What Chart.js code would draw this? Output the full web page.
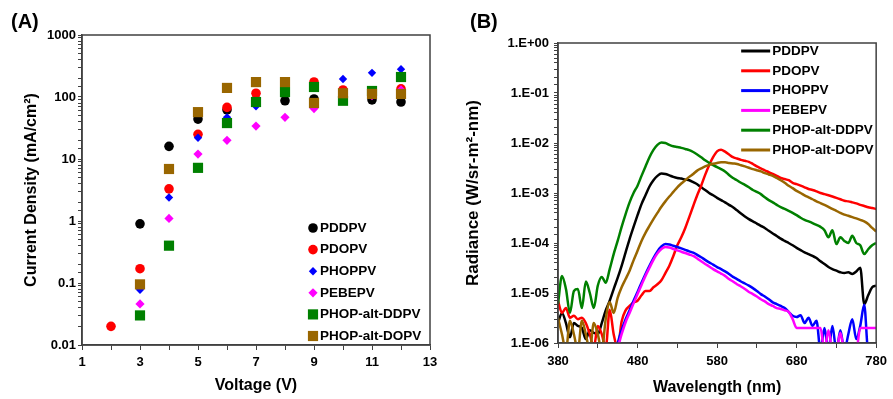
<!DOCTYPE html>
<html>
<head>
<meta charset="utf-8">
<title>J-V and EL spectra</title>
<script src="https://cdn.jsdelivr.net/npm/chart.js@4.4.1/dist/chart.umd.min.js"></script>
<style>
  body { margin: 0; background: #fff; font-family: "Liberation Sans", Arial, sans-serif; }
  .wrap { position: relative; width: 893px; height: 399px; overflow: hidden; }
  .panel { position: absolute; top: 0; height: 399px; }
  .tag { position: absolute; top: 10px; font-size: 20px; font-weight: bold; line-height: 23px; }
</style>
</head>
<body>
<div class="wrap">
  <div class="panel" style="left:0;width:445px"><canvas id="jvChart"></canvas></div>
  <div class="panel" style="left:445px;width:448px"><canvas id="elChart"></canvas></div>
  <div class="tag" style="left:11px">(A)</div>
  <div class="tag" style="left:470px">(B)</div>
</div>
<script>
// panel A - current density vs voltage
const voltage = [2, 3, 4, 5, 6, 7, 8, 9, 10, 11, 12];
const jPDDPV  = [null, 0.9, 16, 44, 62, 90, 87, 93, 100, 90, 83];
const jPDOPV  = [0.02, 0.17, 3.3, 25, 68, 115, 125, 175, 130, 120, 135];
const jPHOPPV = [null, 0.078, 2.4, 22, 47, 71, 120, 150, 195, 245, 280];
const jPEBEPV = [null, 0.046, 1.1, 12, 20, 34, 47, 65, 95, 105, 130];
const jDDPV   = [null, 0.03, 0.4, 7.2, 38, 83, 120, 145, 87, 125, 210];
const jDOPV   = [null, 0.095, 6.9, 57, 140, 174, 174, 80, 115, 112, 112];
const voltageTicks = ['1', '3', '5', '7', '9', '11', '13'];
const currentTicks = ['0.01', '0.1', '1', '10', '100', '1000'];

// panel B - radiance spectra, 5 nm steps
const wavelength = [
  380, 385, 390, 395, 400, 405, 410, 415, 420, 425,
  430, 435, 440, 445, 450, 455, 460, 465, 470, 475,
  480, 485, 490, 495, 500, 505, 510, 515, 520, 525,
  530, 535, 540, 545, 550, 555, 560, 565, 570, 575,
  580, 585, 590, 595, 600, 605, 610, 615, 620, 625,
  630, 635, 640, 645, 650, 655, 660, 665, 670, 675,
  680, 685, 690, 695, 700, 705, 710, 715, 720, 725,
  730, 735, 740, 745, 750, 755, 760, 765, 770, 775,
  780
];
const rPDDPV = [
  2.5e-6, 4e-6, 2.5e-6, 1.3e-6, 2.5e-6, 2.2e-6, 2e-6, 1.2e-6, 1.8e-6, 1.6e-6,
  1.5e-6, 2.5e-6, 4.5e-6, 7e-6, 1.2e-5, 2e-5, 3.5e-5, 6.5e-5, 1.2e-4, 2.1e-4,
  3.6e-4, 6e-4, 9e-4, 1.35e-3, 1.8e-3, 2.2e-3, 2.45e-3, 2.4e-3, 2.25e-3, 2.1e-3,
  2.0e-3, 1.95e-3, 1.85e-3, 1.8e-3, 1.65e-3, 1.5e-3, 1.3e-3, 1.15e-3, 1.0e-3, 9e-4,
  8e-4, 7.2e-4, 6.5e-4, 5.8e-4, 5.2e-4, 4.5e-4, 3.9e-4, 3.4e-4, 3.0e-4, 2.7e-4,
  2.45e-4, 2.2e-4, 2.0e-4, 1.75e-4, 1.55e-4, 1.38e-4, 1.22e-4, 1.1e-4, 1e-4, 9e-5,
  8e-5, 7.2e-5, 6.5e-5, 6e-5, 5.5e-5, 5e-5, 4.3e-5, 3.8e-5, 3.3e-5, 3e-5,
  2.8e-5, 2.6e-5, 2.5e-5, 2.6e-5, 2.4e-5, 2.7e-5, 3.2e-5, 6e-6, 9e-6, 1.3e-5,
  1.4e-5
];
const rPDOPV = [
  7e-6, 4e-6, 5e-6, 3.2e-6, 3.5e-6, 3e-6, 3.2e-6, 2.5e-6, 1.5e-6, 8e-7,
  2.2e-6, 1.5e-6, 8e-7, 4.6e-6, 1.5e-6, 8e-7, 2.7e-6, 4.5e-6, 5.5e-6, 6.5e-6,
  7e-6, 9e-6, 1.1e-5, 1.1e-5, 1.3e-5, 1.5e-5, 1.8e-5, 2.5e-5, 3.5e-5, 5.5e-5,
  9e-5, 1.3e-4, 2.0e-4, 3.3e-4, 5.5e-4, 9e-4, 1.4e-3, 2.3e-3, 3.6e-3, 5.2e-3,
  6.8e-3, 7.3e-3, 6.7e-3, 5.9e-3, 5.2e-3, 4.9e-3, 4.6e-3, 4.4e-3, 4.2e-3, 3.8e-3,
  3.4e-3, 3.1e-3, 2.85e-3, 2.6e-3, 2.4e-3, 2.2e-3, 2e-3, 1.9e-3, 1.8e-3, 1.6e-3,
  1.5e-3, 1.4e-3, 1.3e-3, 1.2e-3, 1.15e-3, 1.08e-3, 1e-3, 9.5e-4, 9e-4, 8.5e-4,
  8e-4, 7.5e-4, 7e-4, 6.8e-4, 6.5e-4, 6.2e-4, 5.8e-4, 5.5e-4, 5.2e-4, 5e-4,
  4.8e-4
];
const rPHOPPV = [
  5e-7, 5e-7, 5e-7, 5e-7, 5e-7, 5e-7, 5e-7, 5e-7, 5e-7, 5e-7,
  5e-7, 5e-7, 5e-7, 5e-7, 5e-7, 1e-6, 1.8e-6, 3e-6, 4.5e-6, 7e-6,
  1.05e-5, 1.6e-5, 2.4e-5, 3.5e-5, 5e-5, 6.8e-5, 8.5e-5, 9.5e-5, 9.3e-5, 8.8e-5,
  8.3e-5, 7.8e-5, 7.3e-5, 6.8e-5, 6.4e-5, 5.8e-5, 5.2e-5, 4.6e-5, 4.1e-5, 3.7e-5,
  3.3e-5, 3e-5, 2.7e-5, 2.4e-5, 2.1e-5, 1.9e-5, 1.7e-5, 1.55e-5, 1.4e-5, 1.25e-5,
  1.1e-5, 9.5e-6, 8.5e-6, 7.5e-6, 6.5e-6, 6e-6, 5.5e-6, 5e-6, 4.2e-6, 3.5e-6,
  3.3e-6, 3.6e-6, 2.5e-6, 3.2e-6, 2.2e-6, 2.8e-6, 7e-7, 2e-6, 7e-7, 2.2e-6,
  7e-7, 1.8e-6, 7e-7, 1.5e-6, 3e-6, 1.2e-6, 2.2e-6, 5.8e-6, 7e-7, 7e-7,
  7e-7
];
const rPEBEPV = [
  5e-7, 5e-7, 5e-7, 5e-7, 5e-7, 5e-7, 5e-7, 5e-7, 5e-7, 5e-7,
  5e-7, 5e-7, 5e-7, 5e-7, 5e-7, 8e-7, 1.5e-6, 2.6e-6, 4e-6, 6.2e-6,
  9.5e-6, 1.45e-5, 2.2e-5, 3.2e-5, 4.6e-5, 6.2e-5, 7.6e-5, 8.3e-5, 8.1e-5, 7.6e-5,
  7.1e-5, 6.7e-5, 6.3e-5, 5.9e-5, 5.5e-5, 4.9e-5, 4.3e-5, 3.8e-5, 3.4e-5, 3e-5,
  2.7e-5, 2.45e-5, 2.2e-5, 1.9e-5, 1.7e-5, 1.5e-5, 1.35e-5, 1.2e-5, 1.05e-5, 9.5e-6,
  8.5e-6, 7.5e-6, 6.8e-6, 6e-6, 5.5e-6, 5e-6, 4.8e-6, 4.5e-6, 4.2e-6, 3e-6,
  2e-6, 2e-6, 2e-6, 2e-6, 2e-6, 2e-6, 2e-6, 7e-7, 1.8e-6, 7e-7,
  7e-7, 1.6e-6, 7e-7, 7e-7, 7e-7, 7e-7, 2e-6, 2e-6, 2e-6, 2e-6,
  2e-6
];
const rDDPV = [
  6e-6, 2.2e-5, 1.2e-5, 4e-6, 1.1e-5, 1.2e-5, 5e-6, 1.7e-5, 1e-5, 5e-6,
  1.4e-5, 2.1e-5, 1.6e-5, 3e-5, 6e-5, 1.1e-4, 2.1e-4, 3.8e-4, 6.5e-4, 1.0e-3,
  1.4e-3, 2.2e-3, 3.4e-3, 5.2e-3, 7.3e-3, 9.2e-3, 1.02e-2, 1.0e-2, 9.2e-3, 8.6e-3,
  8.3e-3, 8e-3, 7.6e-3, 7.2e-3, 6.6e-3, 5.9e-3, 5.2e-3, 4.5e-3, 4e-3, 3.6e-3,
  3.3e-3, 3.0e-3, 2.7e-3, 2.3e-3, 2.0e-3, 1.8e-3, 1.6e-3, 1.45e-3, 1.3e-3, 1.15e-3,
  1.05e-3, 9.5e-4, 8.2e-4, 7.2e-4, 6.5e-4, 5.8e-4, 5.2e-4, 4.8e-4, 4.4e-4, 4e-4,
  3.6e-4, 3.2e-4, 2.9e-4, 2.7e-4, 2.5e-4, 2.3e-4, 2.1e-4, 1.8e-4, 1.3e-4, 1.8e-4,
  9.5e-5, 1.3e-4, 1.1e-4, 1e-4, 1.4e-4, 1e-4, 9e-5, 6e-5, 7.5e-5, 9e-5,
  1e-4
];
const rDOPV = [
  3.2e-6, 1.5e-6, 7e-7, 2.8e-6, 1.5e-6, 7e-7, 2.8e-6, 1.5e-6, 7e-7, 2.5e-6,
  1.5e-6, 7e-7, 3e-6, 6.5e-6, 4e-6, 8e-6, 1.3e-5, 1.9e-5, 2.8e-5, 4.5e-5,
  7e-5, 1.1e-4, 1.6e-4, 2.2e-4, 3e-4, 4e-4, 5.3e-4, 6.8e-4, 8.5e-4, 1.05e-3,
  1.3e-3, 1.55e-3, 1.8e-3, 2.1e-3, 2.4e-3, 2.8e-3, 3.1e-3, 3.4e-3, 3.65e-3, 3.85e-3,
  4e-3, 4.1e-3, 4.1e-3, 4e-3, 3.9e-3, 3.8e-3, 3.6e-3, 3.4e-3, 3.2e-3, 3e-3,
  2.85e-3, 2.7e-3, 2.5e-3, 2.35e-3, 2.2e-3, 2e-3, 1.8e-3, 1.6e-3, 1.4e-3, 1.25e-3,
  1.1e-3, 1e-3, 9e-4, 8.2e-4, 7.5e-4, 6.8e-4, 6.3e-4, 5.8e-4, 5.3e-4, 4.8e-4,
  4.4e-4, 4e-4, 3.7e-4, 3.5e-4, 3.3e-4, 3.1e-4, 2.9e-4, 2.7e-4, 2.4e-4, 2e-4,
  1.7e-4
];
const wavelengthTicks = ['380', '480', '580', '680', '780'];
const radianceTicks = ['1.E-06', '1.E-05', '1.E-04', '1.E-03', '1.E-02', '1.E-01', '1.E+00'];

const names = ['PDDPV', 'PDOPV', 'PHOPPV', 'PEBEPV', 'PHOP-alt-DDPV', 'PHOP-alt-DOPV'];
const colors = ['#000000', '#ff0000', '#0000ff', '#ff00ff', '#008000', '#996600'];
const markers = ['circle', 'circle', 'rectRot', 'rectRot', 'rect', 'rect'];
const markerSize = [4.8, 4.8, 4.2, 4.6, 7.2, 7.2];

const FONT = '"Liberation Sans", Arial, sans-serif';
const AXIS = '#404040';

function pairs(xs, ys) {
  const out = [];
  xs.forEach((x, i) => { if (ys[i] != null) out.push({ x: x, y: ys[i] }); });
  return out;
}

// index of a decade tick, or -1 for minor ticks
function decade(v, lo) {
  const e = Math.log10(v);
  if (Math.abs(e - Math.round(e)) > 1e-6) return -1;
  return Math.round(e) - lo;
}

// plot box on all four sides
const frame = {
  id: 'frame',
  afterDraw(chart) {
    const { ctx, chartArea: a } = chart;
    ctx.save();
    ctx.strokeStyle = AXIS;
    ctx.lineWidth = 1.5;
    ctx.strokeRect(a.left, a.top, a.right - a.left, a.bottom - a.top);
    ctx.restore();
  }
};

// legend drawn inside the plot area
const boxLegend = {
  id: 'boxLegend',
  afterDraw(chart, args, opts) {
    const ctx = chart.ctx;
    const a = chart.chartArea;
    ctx.save();
    ctx.font = 'bold 13.5px ' + FONT;
    ctx.textBaseline = 'middle';
    chart.data.datasets.forEach((ds, i) => {
      const y = a.top + opts.top + i * opts.step;
      const x = a.right - opts.fromRight;
      if (opts.lines) {
        ctx.strokeStyle = ds.borderColor;
        ctx.lineWidth = 3;
        ctx.beginPath();
        ctx.moveTo(x, y);
        ctx.lineTo(x + opts.swatch, y);
        ctx.stroke();
      } else {
        ctx.fillStyle = ds.backgroundColor;
        Chart.helpers.drawPoint(ctx, { pointStyle: ds.pointStyle, radius: ds.pointRadius, rotation: 0, borderWidth: 0 }, x + opts.swatch / 2, y);
      }
      ctx.fillStyle = '#000';
      ctx.fillText(ds.label, x + opts.swatch + opts.gap, y);
    });
    ctx.restore();
  }
};

const tickFont = { family: FONT, size: 13, weight: 'bold' };
const titleFont = { family: FONT, size: 16, weight: 'bold' };

// --- chart A ---
const jvSets = [jPDDPV, jPDOPV, jPHOPPV, jPEBEPV, jDDPV, jDOPV].map((ys, i) => ({
  label: names[i],
  data: pairs(voltage, ys),
  pointStyle: markers[i],
  pointRadius: markerSize[i],
  pointHoverRadius: markerSize[i],
  pointBorderWidth: 0,
  backgroundColor: colors[i],
  borderColor: colors[i],
  order: names.length - 1 - i
}));

new Chart(document.getElementById('jvChart'), {
  type: 'scatter',
  data: { datasets: jvSets },
  options: {
    responsive: true,
    maintainAspectRatio: false,
    animation: false,
    layout: { padding: { top: 35, right: 15, left: 0, bottom: 0 } },
    plugins: {
      legend: { display: false },
      tooltip: { enabled: false },
      boxLegend: { top: 193, step: 21.6, fromRight: 122, swatch: 10, gap: 2 }
    },
    scales: {
      x: {
        type: 'linear', min: 1, max: 13,
        afterFit: s => { s.height = 54; },
        border: { color: AXIS, width: 1.5 },
        grid: { drawOnChartArea: false, tickLength: 5, color: AXIS },
        ticks: {
          stepSize: 1, autoSkip: false, maxRotation: 0, padding: 5, color: '#000', font: tickFont,
          callback: v => (v % 2 === 1 ? voltageTicks[(v - 1) / 2] : '')
        },
        title: { display: true, text: 'Voltage (V)', color: '#000', font: titleFont, padding: { top: 0, bottom: 4 } }
      },
      y: {
        type: 'logarithmic', min: 0.01, max: 1000,
        afterFit: s => { s.width = 82; },
        border: { color: AXIS, width: 1.5 },
        grid: { drawOnChartArea: false, tickLength: 4, color: AXIS },
        ticks: {
          autoSkip: false, padding: 2, color: '#000', font: tickFont,
          callback: v => { const k = decade(v, -2); return k >= 0 ? currentTicks[k] : ''; }
        },
        title: { display: true, text: 'Current Density (mA/cm²)', color: '#000', font: titleFont, padding: { top: 22, bottom: 0 } }
      }
    }
  },
  plugins: [frame, boxLegend]
});

// --- chart B ---
const elSets = [rPDDPV, rPDOPV, rPHOPPV, rPEBEPV, rDDPV, rDOPV].map((ys, i) => ({
  label: names[i],
  data: pairs(wavelength, ys),
  borderColor: colors[i],
  backgroundColor: colors[i],
  borderWidth: 2.5,
  pointRadius: 0,
  cubicInterpolationMode: 'monotone',
  order: names.length - 1 - i
}));

new Chart(document.getElementById('elChart'), {
  type: 'line',
  data: { datasets: elSets },
  options: {
    responsive: true,
    maintainAspectRatio: false,
    animation: false,
    layout: { padding: { top: 43, right: 11, left: 0, bottom: 0 } },
    plugins: {
      legend: { display: false },
      tooltip: { enabled: false },
      boxLegend: { top: 8, step: 19.8, fromRight: 135, swatch: 29, gap: 2, lines: true }
    },
    scales: {
      x: {
        type: 'linear', min: 380, max: 780,
        afterFit: s => { s.height = 56; },
        border: { color: AXIS, width: 1.5 },
        grid: { drawOnChartArea: false, tickLength: 5, color: AXIS },
        ticks: {
          stepSize: 50, autoSkip: false, maxRotation: 0, padding: 6, color: '#000', font: tickFont,
          callback: v => ((v - 380) % 100 === 0 ? wavelengthTicks[(v - 380) / 100] : '')
        },
        title: { display: true, text: 'Wavelength (nm)', color: '#000', font: titleFont, padding: { top: 0, bottom: 2 } }
      },
      y: {
        type: 'logarithmic', min: 1e-6, max: 1,
        afterFit: s => { s.width = 113; },
        border: { color: AXIS, width: 1.5 },
        grid: { drawOnChartArea: false, tickLength: 4, color: AXIS },
        ticks: {
          autoSkip: false, padding: 5, color: '#000', font: tickFont,
          callback: v => { const k = decade(v, -6); return k >= 0 ? radianceTicks[k] : ''; }
        },
        title: { display: true, text: 'Radiance (W/sr-m²-nm)', color: '#000', font: { family: FONT, size: 17, weight: 'bold' }, padding: { top: 18, bottom: 0 } }
      }
    }
  },
  plugins: [frame, boxLegend]
});
</script>
</body>
</html>
